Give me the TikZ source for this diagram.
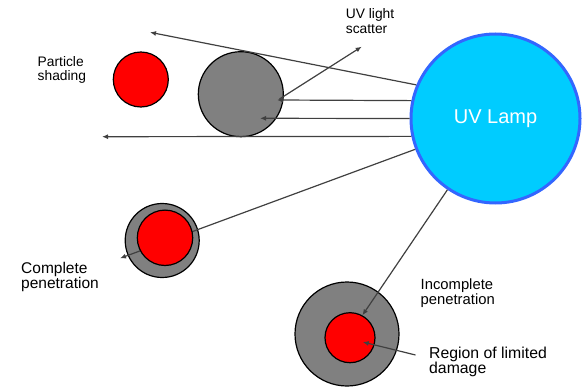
\documentclass[tikz,border=0pt]{standalone}
\usepackage{fontspec}
\setmainfont{Liberation Sans}
\usetikzlibrary{arrows.meta}
\definecolor{lampfill}{RGB}{0,204,255}
\definecolor{lampedge}{RGB}{51,102,255}
\definecolor{partgray}{RGB}{128,128,128}
\definecolor{partred}{RGB}{255,0,0}
\definecolor{raycol}{RGB}{64,64,64}
\tikzset{
  lampnode/.style={circle, draw=lampedge, line width=3pt, fill=lampfill, inner sep=0pt, minimum size=169pt, text=white, font=\fontsize{20}{22}\selectfont},
  grayp/.style={circle, draw=black, line width=1.2pt, fill=partgray, inner sep=0pt},
  redp/.style={circle, draw=black, line width=1.2pt, fill=partred, inner sep=0pt},
  ray/.style={draw=raycol, line width=1.2pt},
  rayarrow/.style={ray, -{Latex[length=6pt,width=5pt]}},
  lbl/.style={anchor=base west, inner sep=0pt, align=left, text=black},
}
\begin{document}
\begin{tikzpicture}[x=1pt,y=-1pt]
\useasboundingbox (0,0) rectangle (588,387);
% particles
\node[redp, minimum size=55pt] (red1) at (140.8,79.5) {};
\node[grayp, minimum size=85pt] (gray1) at (240.8,94.2) {};
\node[grayp, minimum size=74pt] (compOut) at (162.2,240.5) {};
\node[grayp, minimum size=104pt] (incOut) at (347,334) {};
% lamp
\node[lampnode] (lamp) at (495.5,118.5) {\raisebox{-2.5pt}{UV Lamp}};
% free ends
\coordinate (e1) at (150,32.3);
\coordinate (e2) at (277,100);
\coordinate (s3) at (279.5,99);
\coordinate (e3) at (361.7,46.7);
\coordinate (e4) at (260,118.3);
\coordinate (e5) at (102,136.7);
\coordinate (e6) at (120,258.3);
\coordinate (e8) at (415.5,355);
\coordinate (t8) at (362.7,342);
% rays
\draw[rayarrow] (lamp.157.4) -- (e1);
\draw[rayarrow] (lamp.168.3) -- (e2);
\draw[rayarrow] (s3) -- (e3);
\draw[rayarrow] (lamp.west) -- (e4);
\draw[rayarrow] (lamp.192.4) -- (e5);
\draw[rayarrow] (lamp.201) -- (e6);
% inner red cores
\node[redp, minimum size=55.4pt] (compIn) at (165,237.8) {};
\node[redp, minimum size=50pt] (incIn) at (350,337.7) {};
\draw[rayarrow] (lamp.236.4) -- (incIn.61);
\draw[rayarrow] (e8) -- (t8);
% labels (anchor at baseline of last line)
\node[lbl, font=\fontsize{13.8}{14}\selectfont] (tPart) at (37.5,80.7) {Particle\\shading};
\node[lbl, font=\fontsize{13.8}{15}\selectfont] (tScat) at (345.7,33.3) {UV light\\scatter};
\node[lbl, font=\fontsize{15.5}{15}\selectfont] (tComp) at (21,288.3) {Complete\\penetration};
\node[lbl, font=\fontsize{14.8}{15}\selectfont] (tInc) at (420.5,304.3) {Incomplete\\penetration};
\node[lbl, font=\fontsize{15.8}{15}\selectfont] (tReg) at (429,373.3) {Region of limited\\damage};
\end{tikzpicture}
\end{document}
